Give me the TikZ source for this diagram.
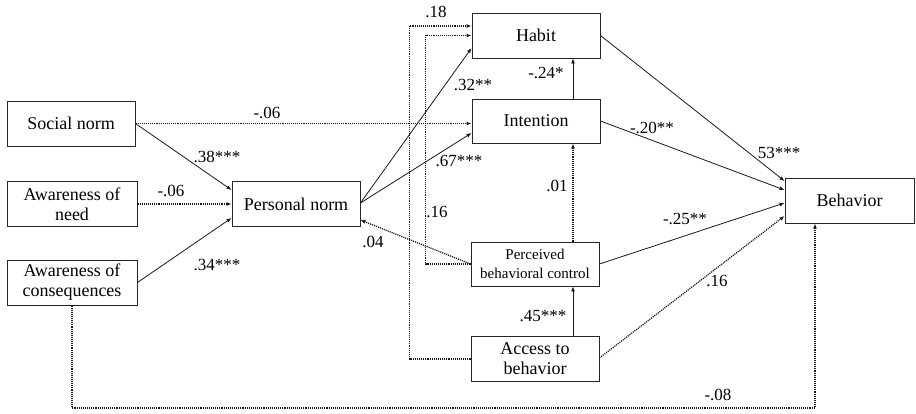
\documentclass[tikz,border=0pt]{standalone}
\usepackage{fontspec}
\setmainfont{Liberation Serif}
\usetikzlibrary{arrows.meta}
\begin{document}
\begin{tikzpicture}[x=1pt,y=-1pt,
  var/.style={draw=black!85,line width=0.9pt,rectangle,inner sep=1pt,
    minimum width=128pt,minimum height=45pt,align=center,
    font=\fontsize{18}{20}\selectfont},
  smallvar/.style={var,font=\fontsize{15}{19}\selectfont},
  path/.style={draw=black!90,line width=0.8pt,-{Latex[length=5pt,width=4pt]}},
  weak/.style={path,line width=1.3pt,dash pattern=on 1.1pt off 1pt},
  coef/.style={inner sep=0pt,font=\fontsize{17}{19}\selectfont}]
\useasboundingbox (0,0) rectangle (916,414);

% variables
\node[var] (habit) at (536,35.5) {Habit};
\node[var,minimum height=44pt] (intention) at (536,121) {Intention};
\node[smallvar,minimum height=44pt] (pbc) at (535,264) {Perceived\\behavioral control};
\node[var] (access) at (535,359) {Access to\\behavior};
\node[var] (social) at (71,123.5) {Social norm};
\node[var,minimum width=130pt] (need) at (72,204) {Awareness of\\need};
\node[var,minimum width=130pt] (conseq) at (72,282.5) {Awareness of\\consequences};
\node[var] (pnorm) at (296,204) {Personal norm};
\node[var,minimum width=129pt] (behavior) at (849.5,200.5) {Behavior};

% helper point for the long bottom path
\coordinate (bendB) at (815,408);

% paths into personal norm
\draw[weak] (social.east) -- (social.east -| intention.west);
\draw[path] (social.east) -- ([yshift=14pt]pnorm.west);
\draw[weak] (need.east) -- (pnorm.west);
\draw[path] (conseq.east) -- ([yshift=-14pt]pnorm.west);
\draw[weak] (conseq.south) |- (bendB) -- (bendB |- behavior.south);

% paths from personal norm
\draw[path] ([yshift=1pt]pnorm.east) -- ([yshift=-12.5pt]habit.west);
\draw[path] ([yshift=1pt]pnorm.east) -- ([yshift=-12pt]intention.west);

% middle column
\draw[path] ([xshift=37pt]intention.north) -- ([xshift=37pt]habit.south);
\draw[weak] ([xshift=38pt]pbc.north) -- ([xshift=38pt]pbc.north |- intention.south);
\draw[path] ([xshift=38pt]access.north) -- ([xshift=38pt]access.north |- pbc.south);
\draw[weak] (pbc.west) -- ([yshift=-16pt]pnorm.east);
\draw[weak] (pbc.west) -- ++(-45,0) |- (habit.west);
\draw[weak] (access.west) -- ++(-61,0) |- ([yshift=9.5pt]habit.west);

% paths into behavior
\draw[path] (habit.east) -- ([yshift=19.5pt]behavior.west);
\draw[path] (intention.east) -- ([yshift=10.5pt]behavior.west);
\draw[path] (pbc.east) -- ([yshift=-2.5pt]behavior.west);
\draw[weak] ([yshift=1pt]access.east) -- ([yshift=-15.5pt]behavior.west);

% coefficients
\node[coef] (c1) at (267,113) {-.06};
\node[coef] (c2) at (217,157) {.38***};
\node[coef] (c3) at (171,191) {-.06};
\node[coef] (c4) at (217,265) {.34***};
\node[coef] (c5) at (473,85) {.32**};
\node[coef] (c6) at (459,161) {.67***};
\node[coef] (c7) at (546,73) {-.24*};
\node[coef] (c8) at (436,12) {.18};
\node[coef] (c9) at (437,212) {.16};
\node[coef] (c10) at (557,186) {.01};
\node[coef] (c11) at (373,242) {.04};
\node[coef] (c12) at (543,316) {.45***};
\node[coef] (c13) at (779,153) {53***};
\node[coef] (c14) at (652,128) {-.20**};
\node[coef] (c15) at (685,219) {-.25**};
\node[coef] (c16) at (717,281) {.16};
\node[coef] (c17) at (718,395) {-.08};
\end{tikzpicture}
\end{document}
